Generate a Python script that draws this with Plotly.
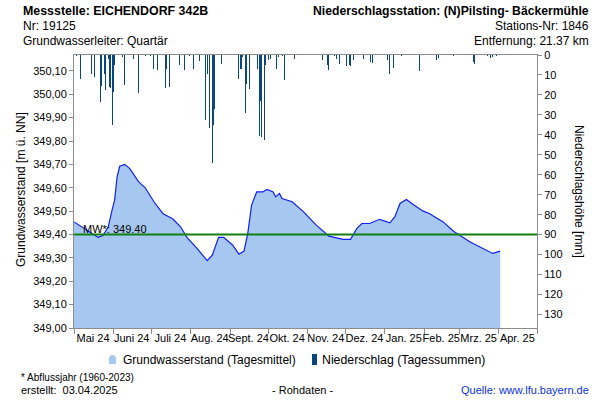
import plotly.graph_objects as go

# ---------------- data ----------------
gw_dates = [
    "2024-05-01", "2024-05-11", "2024-05-20", "2024-05-24", "2024-05-28", "2024-05-31",
    "2024-06-02", "2024-06-04", "2024-06-06", "2024-06-10", "2024-06-14", "2024-06-21",
    "2024-06-26", "2024-07-03", "2024-07-10", "2024-07-18", "2024-07-24", "2024-07-29",
    "2024-08-06", "2024-08-14", "2024-08-18", "2024-08-23", "2024-08-27", "2024-09-03",
    "2024-09-08", "2024-09-12", "2024-09-15", "2024-09-18", "2024-09-22", "2024-09-27",
    "2024-09-30", "2024-10-05", "2024-10-07", "2024-10-10", "2024-10-12", "2024-10-20",
    "2024-10-29", "2024-11-08", "2024-11-18", "2024-11-29", "2024-12-05", "2024-12-10",
    "2024-12-14", "2024-12-20", "2024-12-28", "2025-01-05", "2025-01-09", "2025-01-13",
    "2025-01-18", "2025-01-24", "2025-01-31", "2025-02-05", "2025-02-16", "2025-02-24",
    "2025-02-26", "2025-03-09", "2025-03-14", "2025-03-22", "2025-03-27", "2025-04-02",
]
gw_values = [
    349.454, 349.419, 349.388, 349.397, 349.433, 349.504,
    349.547, 349.647, 349.692, 349.700, 349.682, 349.625,
    349.601, 349.540, 349.490, 349.466, 349.433, 349.388,
    349.341, 349.288, 349.312, 349.388, 349.388, 349.355,
    349.316, 349.329, 349.405, 349.526, 349.582, 349.582,
    349.593, 349.582, 349.561, 349.576, 349.554, 349.540,
    349.497, 349.440, 349.393, 349.379, 349.379, 349.426,
    349.447, 349.447, 349.465, 349.450, 349.476, 349.533,
    349.550, 349.526, 349.501, 349.490, 349.454, 349.415,
    349.407, 349.369, 349.355, 349.333, 349.319, 349.329,
]

precip_dates = [
    "2024-05-03", "2024-05-06", "2024-05-15", "2024-05-17", "2024-05-22", "2024-05-23",
    "2024-05-25", "2024-05-26", "2024-05-27", "2024-05-28", "2024-05-29", "2024-05-30",
    "2024-05-31", "2024-06-01", "2024-06-02", "2024-06-08", "2024-06-10", "2024-06-17",
    "2024-06-21", "2024-06-26", "2024-06-30", "2024-07-03", "2024-07-06", "2024-07-07",
    "2024-07-12", "2024-07-13", "2024-07-15", "2024-07-22", "2024-07-23", "2024-07-27",
    "2024-07-31", "2024-08-03", "2024-08-08", "2024-08-13", "2024-08-14", "2024-08-16",
    "2024-08-17", "2024-08-18", "2024-08-19", "2024-08-20", "2024-08-25", "2024-09-08",
    "2024-09-09", "2024-09-10", "2024-09-11", "2024-09-13", "2024-09-14", "2024-09-16",
    "2024-09-23", "2024-09-24", "2024-09-25", "2024-09-26", "2024-09-27", "2024-09-28",
    "2024-09-29", "2024-10-01", "2024-10-03", "2024-10-08", "2024-10-09", "2024-10-12",
    "2024-10-14", "2024-10-22", "2024-10-23", "2024-11-13", "2024-11-17", "2024-11-18",
    "2024-11-22", "2024-11-24", "2024-11-26", "2024-12-02", "2024-12-03", "2024-12-04",
    "2024-12-05", "2024-12-07", "2024-12-15", "2024-12-21", "2024-12-22", "2025-01-03",
    "2025-01-05", "2025-01-08", "2025-01-14", "2025-01-28", "2025-02-11", "2025-02-12",
    "2025-02-24", "2025-03-12", "2025-03-13", "2025-03-23", "2025-03-25", "2025-03-27",
    "2025-03-30",
]
precip_values = [
    0.6, 12.2, 9.7, 11.0, 23.3, 15.5,
    9.7, 17.7, 1.5, 2.0, 16.0, 16.4,
    35.0, 18.5, 5.1, 1.0, 15.2, 1.8,
    19.0, 0.6, 0.6, 7.1, 7.6, 2.6,
    16.4, 6.8, 16.0, 9.7, 5.1, 7.6,
    0.6, 7.1, 3.1, 32.5, 9.3, 36.7,
    31.1, 54.1, 35.3, 27.3, 4.6, 11.8,
    7.1, 6.8, 1.0, 29.0, 14.7, 16.9,
    6.8, 40.4, 22.8, 40.9, 45.8, 42.4,
    5.0, 2.6, 1.8, 6.8, 1.0, 0.6,
    12.7, 1.8, 6.5, 2.3, 5.1, 7.6,
    0.6, 1.8, 4.6, 5.5, 2.6, 5.1,
    5.5, 2.6, 1.8, 3.4, 4.0, 2.3,
    9.7, 6.3, 0.3, 8.0, 2.3, 1.3,
    0.6, 3.4, 4.6, 0.3, 1.3, 0.9,
    0.6,
]

mean_level = 349.40
mean_label = "MW*: 349.40"

month_starts = [
    "2024-05-01", "2024-06-01", "2024-07-01", "2024-08-01", "2024-09-01", "2024-10-01",
    "2024-11-01", "2024-12-01", "2025-01-01", "2025-02-01", "2025-03-01", "2025-04-01",
    "2025-05-01",
]
month_mids = [
    "2024-05-16", "2024-06-15 12:00", "2024-07-16", "2024-08-16", "2024-09-15 12:00",
    "2024-10-16", "2024-11-15 12:00", "2024-12-16", "2025-01-16", "2025-02-14 12:00",
    "2025-03-16", "2025-04-15 12:00",
]
month_labels = [
    "Mai 24", "Juni 24", "Juli 24", "Aug. 24", "Sept. 24", "Okt. 24", "Nov. 24",
    "Dez. 24", "Jan. 25", "Feb. 25", "Mrz. 25", "Apr. 25",
]
gw_ticks = [349.0, 349.1, 349.2, 349.3, 349.4, 349.5, 349.6, 349.7, 349.8, 349.9, 350.0, 350.1]
precip_ticks = [0, 10, 20, 30, 40, 50, 60, 70, 80, 90, 100, 110, 120, 130]

# ---------------- layout geometry ----------------
W, H = 600, 400
L, R, T, B = 74, 537, 55, 328
FONT = "Liberation Sans, Arial, sans-serif"
AXC = "#8c8c8c"


def px(x):
    return (x - L) / (R - L)


def py(y):
    return (B - y) / (B - T)


fig = go.Figure()

fig.add_trace(go.Scatter(
    x=gw_dates, y=gw_values, mode="lines", fill="tozeroy",
    line=dict(color="#1020f0", width=1.2), fillcolor="#a6c7ef",
    name="Grundwasserstand (Tagesmittel)", showlegend=False, hoverinfo="skip",
))
fig.add_trace(go.Bar(
    x=precip_dates, y=precip_values, yaxis="y2",
    marker=dict(color="#0a4682", line=dict(width=0)),
    width=86400000 * 0.75,
    name="Niederschlag (Tagessummen)", showlegend=False, hoverinfo="skip",
))

fig.add_shape(type="line", xref="paper", x0=0, x1=1, yref="y", y0=mean_level, y1=mean_level,
              line=dict(color="#108010", width=2))

annotations = [
    dict(text=mean_label, x=px(81), y=mean_level, xref="paper", yref="y",
         xanchor="left", yanchor="bottom", yshift=-2, font=dict(size=11, color="#000")),
    dict(text="<b>Messstelle: EICHENDORF 342B</b>", x=px(21), y=py(11),
         xanchor="left", yanchor="middle", font=dict(size=12.4)),
    dict(text="Nr: 19125", x=px(21), y=py(26), xanchor="left", yanchor="middle", font=dict(size=12)),
    dict(text="Grundwasserleiter: Quartär", x=px(21), y=py(41), xanchor="left", yanchor="middle",
         font=dict(size=12)),
    dict(text="<b>Niederschlagsstation: (N)Pilsting- Bäckermühle</b>", x=px(591), y=py(11),
         xanchor="right", yanchor="middle", font=dict(size=12.2)),
    dict(text="Stations-Nr: 1846", x=px(591), y=py(26), xanchor="right", yanchor="middle",
         font=dict(size=12)),
    dict(text="Entfernung: 21.37 km", x=px(591), y=py(41), xanchor="right", yanchor="middle",
         font=dict(size=12)),
    dict(text="Grundwasserstand [m ü. NN]", x=px(21), y=py(190), textangle=-90,
         xanchor="center", yanchor="middle", font=dict(size=12)),
    dict(text="Niederschlagshöhe [mm]", x=px(579), y=py(191), textangle=90,
         xanchor="center", yanchor="middle", font=dict(size=12)),
    dict(text="Grundwasserstand (Tagesmittel)", x=px(121), y=py(360), xanchor="left",
         yanchor="middle", font=dict(size=12)),
    dict(text="Niederschlag (Tagessummen)", x=px(320), y=py(360), xanchor="left",
         yanchor="middle", font=dict(size=12.3)),
    dict(text="* Abflussjahr (1960-2023)", x=px(19), y=py(377), xanchor="left",
         yanchor="middle", font=dict(size=10)),
    dict(text="erstellt:  03.04.2025", x=px(19), y=py(390), xanchor="left",
         yanchor="middle", font=dict(size=11)),
    dict(text="- Rohdaten -", x=px(302), y=py(390), xanchor="center",
         yanchor="middle", font=dict(size=11)),
    dict(text="Quelle: www.lfu.bayern.de", x=px(591), y=py(390), xanchor="right",
         yanchor="middle", font=dict(size=11, color="#0a32e0")),
]
for a in annotations:
    a.setdefault("xref", "paper")
    a.setdefault("yref", "paper")
    a["showarrow"] = False
    fig.add_annotation(**a)

# legend icons
fig.add_shape(type="path", xref="paper", yref="paper",
              path=f"M {px(109)} {py(364)} L {px(109)} {py(359)} Q {px(109)} {py(355)} {px(112.5)} {py(355)} "
                   f"Q {px(116)} {py(355)} {px(116)} {py(359)} L {px(116)} {py(364)} Z",
              fillcolor="#a6c7ef", line=dict(width=0))
fig.add_shape(type="rect", xref="paper", yref="paper",
              x0=px(312), x1=px(317), y0=py(365), y1=py(354),
              fillcolor="#0a4682", line=dict(width=0))

fig.update_layout(
    width=W, height=H,
    margin=dict(l=L, r=W - R, t=T, b=H - B, pad=0, autoexpand=False),
    paper_bgcolor="white", plot_bgcolor="white",
    separators=",.",
    font=dict(family=FONT, size=11, color="#000"),
    showlegend=False,
    bargap=0,
    xaxis=dict(
        type="date", range=[month_starts[0], month_starts[-1]],
        tickmode="array", tickvals=month_mids, ticktext=month_labels, tickangle=0,
        ticks="", showgrid=False, zeroline=False, automargin=False,
        showline=True, linecolor=AXC, linewidth=1, mirror=True,
        tickfont=dict(size=11, color="#000"),
        minor=dict(tickmode="array", tickvals=month_starts, ticks="outside",
                   ticklen=5, tickcolor=AXC, showgrid=False),
    ),
    yaxis=dict(
        range=[349.0, 350.168], tickmode="array", tickvals=gw_ticks, tickformat=".2f",
        ticks="outside", ticklen=4, tickcolor=AXC, showgrid=False, zeroline=False,
        showline=True, linecolor=AXC, linewidth=1, automargin=False,
        tickfont=dict(size=11, color="#000"),
    ),
    yaxis2=dict(
        overlaying="y", side="right", range=[136.8, 0],
        tickmode="array", tickvals=precip_ticks, automargin=False,
        ticks="outside", ticklen=4, tickcolor=AXC, showgrid=False, zeroline=False,
        showline=True, linecolor=AXC, linewidth=1,
        tickfont=dict(size=11, color="#000"),
    ),
)

fig.write_html(
    "out.html",
    config={"displayModeBar": False, "staticPlot": True},
    post_script="document.body.style.margin='0';document.body.style.overflow='hidden';",
)
